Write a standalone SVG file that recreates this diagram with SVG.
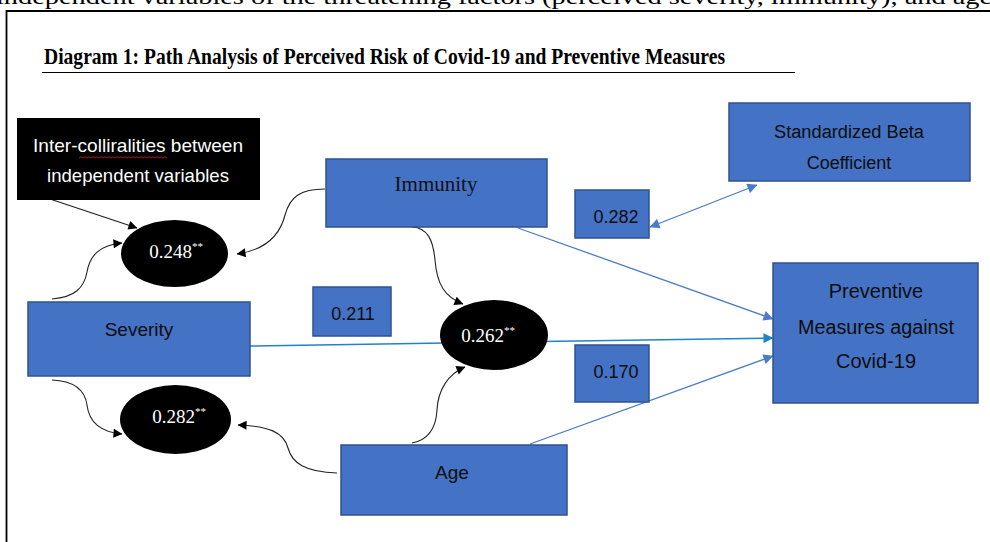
<svg xmlns="http://www.w3.org/2000/svg" width="990" height="542" viewBox="0 0 990 542">
<style>
.box{fill:#4472C4;stroke:#2F528F;stroke-width:1.5}
.ell{fill:#000}
.sans{font-family:"Liberation Sans",Arial,sans-serif;fill:#0d0d0d}
.serif{font-family:"Liberation Serif","Times New Roman",serif}
.etxt{font-family:"Liberation Serif","Times New Roman",serif;font-size:19px;fill:#fff;text-anchor:middle}
.sup{font-size:11px}
.curve{fill:none;stroke:#222;stroke-width:1.1;marker-end:url(#ab)}
.bl{fill:none;stroke:#4A7CC9;stroke-width:1.3}
</style>
<defs>
<marker id="ab" viewBox="0 0 10 10" refX="9.5" refY="5" markerWidth="11" markerHeight="9" markerUnits="userSpaceOnUse" orient="auto"><path d="M0,0 L10,5 L0,10 z" fill="#000"/></marker>
<marker id="bb" viewBox="0 0 10 10" refX="9.5" refY="5" markerWidth="12" markerHeight="10" markerUnits="userSpaceOnUse" orient="auto-start-reverse"><path d="M0,0 L10,5 L0,10 z" fill="#4A7CC9"/></marker>
<marker id="tb" viewBox="0 0 10 10" refX="9.5" refY="5" markerWidth="12" markerHeight="10" markerUnits="userSpaceOnUse" orient="auto"><path d="M0,0 L10,5 L0,10 z" fill="#1F82CC"/></marker>
</defs>
<rect width="990" height="542" fill="#fff"/>
<text class="serif" x="-4" y="4" font-size="22" textLength="996" lengthAdjust="spacingAndGlyphs" fill="#000">independent variables of the threatening factors (perceived severity, immunity), and age</text>
<path d="M6.5 542 V11 H990" fill="none" stroke="#000" stroke-width="1.8"/>
<text class="serif" x="44" y="64" font-size="23" font-weight="bold" textLength="681" lengthAdjust="spacingAndGlyphs" fill="#000">Diagram  1: Path Analysis of Perceived Risk of Covid-19 and Preventive Measures</text>
<line x1="42" y1="72.5" x2="795" y2="72.5" stroke="#000" stroke-width="1.2"/>

<g id="connectors">
<line x1="50" y1="199" x2="137" y2="228" class="curve"/>
<path class="curve" d="M52 299 C75 297 84 288 87 272 C90 255 100 245 122 243"/>
<path class="curve" d="M325 189 C300 189 290 197 285 215 C280 235 265 250 237 254"/>
<path class="curve" d="M412 227 C428 228 433 240 435 260 C437 285 445 297 463 304"/>
<path class="curve" d="M52 380 C75 381 85 390 87 405 C89 422 100 432 122 434"/>
<path class="curve" d="M337 473 C305 472 292 463 288 448 C284 432 268 426 238 425"/>
<path class="curve" d="M412 443 C428 440 436 428 437 410 C438 390 448 374 465 367"/>
<line class="bl" x1="518" y1="228" x2="773" y2="319" marker-end="url(#bb)"/>
<line x1="249" y1="346" x2="773" y2="338" fill="none" stroke="#1F82CC" stroke-width="1.5" marker-end="url(#tb)"/>
<line class="bl" x1="530" y1="444" x2="773" y2="356" marker-end="url(#bb)"/>
<line class="bl" x1="650" y1="227" x2="757" y2="185" marker-start="url(#bb)" marker-end="url(#bb)"/>
</g>

<g id="note">
<rect x="17" y="118" width="243" height="82" fill="#000"/>
<text class="sans" x="138" y="152" font-size="19" text-anchor="middle" style="fill:#fff" textLength="210" lengthAdjust="spacingAndGlyphs">Inter-colliralities between</text>
<text class="sans" x="138" y="182" font-size="19" text-anchor="middle" style="fill:#fff" textLength="182" lengthAdjust="spacingAndGlyphs">independent variables</text>
<path d="M79 158 l2 -1.2 l2 1.2 l2 -1.2 l2 1.2 l2 -1.2 l2 1.2 l2 -1.2 l2 1.2 l2 -1.2 l2 1.2 l2 -1.2 l2 1.2 l2 -1.2 l2 1.2 l2 -1.2 l2 1.2 l2 -1.2 l2 1.2 l2 -1.2 l2 1.2 l2 -1.2 l2 1.2 l2 -1.2 l2 1.2 l2 -1.2 l2 1.2 l2 -1.2 l2 1.2 l2 -1.2 l2 1.2 l2 -1.2 l2 1.2 l2 -1.2 l2 1.2 l2 -1.2 l2 1.2 l2 -1.2 l2 1.2 l2 -1.2 l2 1.2 l2 -1.2 l2 1.2 l2 -1.2 l2 1.2" fill="none" stroke="#d02020" stroke-width="0.8"/>
</g>

<g id="immunity">
<rect class="box" x="326" y="159" width="221" height="68"/>
<text class="serif" x="436" y="191" font-size="21" text-anchor="middle" fill="#111">Immunity</text>
</g>
<g id="severity">
<rect class="box" x="28" y="302" width="222" height="74"/>
<text class="sans" x="139" y="336" font-size="19" text-anchor="middle">Severity</text>
</g>
<g id="age">
<rect class="box" x="341" y="445" width="226" height="70"/>
<text class="sans" x="452" y="479" font-size="19" text-anchor="middle">Age</text>
</g>
<g id="beta">
<rect class="box" x="729" y="103" width="241" height="78"/>
<text class="sans" x="849" y="138" font-size="18" text-anchor="middle" textLength="150" lengthAdjust="spacingAndGlyphs">Standardized Beta</text>
<text class="sans" x="849" y="169" font-size="18" text-anchor="middle">Coefficient</text>
</g>
<g id="preventive">
<rect class="box" x="773" y="263" width="205" height="140"/>
<text class="sans" x="876" y="298" font-size="20" text-anchor="middle">Preventive</text>
<text class="sans" x="876" y="334" font-size="20" text-anchor="middle" textLength="156" lengthAdjust="spacingAndGlyphs">Measures against</text>
<text class="sans" x="876" y="368" font-size="20" text-anchor="middle">Covid-19</text>
</g>
<g id="b0282">
<rect class="box" x="575" y="190" width="74" height="48"/>
<text class="sans" x="616" y="223" font-size="18" text-anchor="middle">0.282</text>
</g>
<g id="b0211">
<rect class="box" x="313" y="287" width="78" height="49"/>
<text class="sans" x="353" y="320" font-size="18" text-anchor="middle">0.211</text>
</g>
<g id="b0170">
<rect class="box" x="575" y="345" width="74" height="57"/>
<text class="sans" x="616" y="378" font-size="18" text-anchor="middle">0.170</text>
</g>
<g id="e0248">
<ellipse class="ell" cx="174.5" cy="253.5" rx="53.5" ry="33.5"/>
<text class="etxt" x="176" y="258">0.248<tspan class="sup" dy="-8">**</tspan></text>
</g>
<g id="e0262">
<ellipse class="ell" cx="494" cy="335" rx="54" ry="35"/>
<text class="etxt" x="488" y="342">0.262<tspan class="sup" dy="-8">**</tspan></text>
</g>
<g id="e0282">
<ellipse class="ell" cx="175.5" cy="419.5" rx="55.5" ry="34.5"/>
<text class="etxt" x="179" y="423">0.282<tspan class="sup" dy="-8">**</tspan></text>
</g>
</svg>
